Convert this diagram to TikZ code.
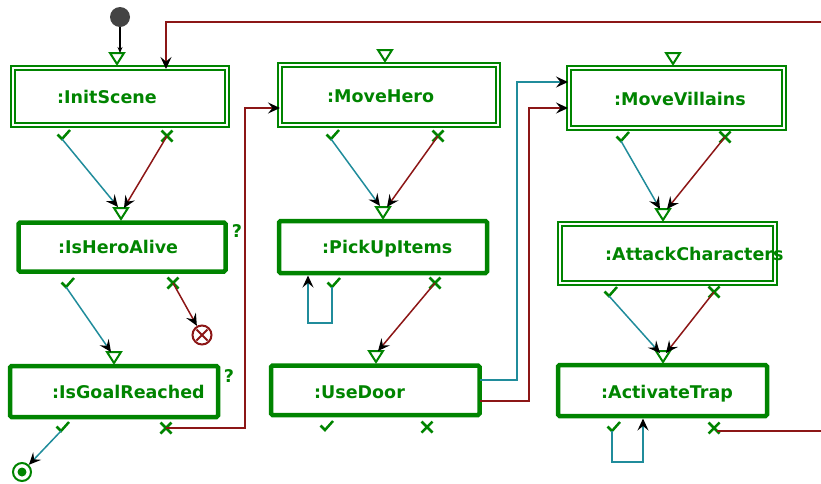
\documentclass[tikz,border=0pt]{standalone}
\usepackage{fontspec}
\setmainfont{DejaVu Sans}
\usetikzlibrary{arrows.meta}
\definecolor{actgreen}{RGB}{0,132,0}
\definecolor{okteal}{RGB}{32,140,155}
\definecolor{failred}{RGB}{140,22,22}
\definecolor{startgray}{RGB}{68,68,68}
\tikzset{
  sbox/.style={draw=actgreen,line width=4.5pt,rounded corners=1.5pt,inner sep=0pt,outer sep=0pt},
  dbox/.style={draw=actgreen,line width=2pt,double=white,double distance=2pt,inner sep=0pt,outer sep=0pt},
  lbl/.style={text=actgreen,font=\fontsize{17.5}{20}\selectfont\bfseries,anchor=base west,inner sep=0pt},
  qmark/.style={text=actgreen,font=\fontsize{17.5}{20}\selectfont\bfseries,anchor=base,inner sep=0pt},
  tip/.style={-{Stealth[length=12pt,width=11pt,inset=4.5pt,color=black]}},
  okflow/.style={draw=okteal,line width=1.5pt,tip},
  failflow/.style={draw=failred,line width=1.5pt,tip},
  okmark/.pic={\draw[actgreen,line width=2.5pt] (-4.5,-4.5)--(0,0)--(8,-9);},
  failmark/.pic={\draw[actgreen,line width=2.5pt] (-5.5,-5.5)--(5.5,5.5) (-5.5,5.5)--(5.5,-5.5);},
  entry/.pic={\draw[actgreen,line width=2pt,fill=white,line join=miter] (0,-1)--(-7,-12)--(7,-12)--cycle;}
}
\begin{document}
\begin{tikzpicture}[x=1pt,y=-1pt]
\useasboundingbox (0,0) rectangle (821,483);

% activity boxes
\node[dbox,minimum width=214pt,minimum height=57pt] (init) at (120,96.5) {};
\node[sbox,minimum width=207pt,minimum height=49pt] (alive) at (122,247) {};
\node[sbox,minimum width=208pt,minimum height=51pt] (goal) at (114,391.5) {};
\node[dbox,minimum width=218pt,minimum height=60pt] (hero) at (389,95) {};
\node[sbox,minimum width=208pt,minimum height=52pt] (pick) at (383,247) {};
\node[sbox,minimum width=208.5pt,minimum height=49.5pt] (door) at (375.25,390.25) {};
\node[dbox,minimum width=215pt,minimum height=60pt] (vill) at (676.5,98) {};
\node[dbox,minimum width=215pt,minimum height=59pt] (attack) at (667.5,253.5) {};
\node[sbox,minimum width=209pt,minimum height=51pt] (trap) at (662.5,390.5) {};

% box titles
\node[lbl] (tinit) at (57,103.5) {:InitScene};
\node[lbl] (talive) at (58,253) {:IsHeroAlive};
\node[lbl] (tgoal) at (52,398) {:IsGoalReached};
\node[lbl] (thero) at (327,102.5) {:MoveHero};
\node[lbl] (tpick) at (322,253) {:PickUpItems};
\node[lbl] (tdoor) at (314,398) {:UseDoor};
\node[lbl] (tvill) at (614,105) {:MoveVillains};
\node[lbl] (tattack) at (605,260) {:AttackCharacters};
\node[lbl] (ttrap) at (601,398) {:ActivateTrap};
\node[qmark] (qalive) at (237,237) {?};
\node[qmark] (qgoal) at (229,382) {?};

% initial, final and failure nodes
\node[circle,fill=startgray,minimum size=20pt,inner sep=0pt] (start) at (120,17) {};
\node[circle,draw=actgreen,line width=2pt,minimum size=18pt,inner sep=0pt] (finish) at (22,472) {};
\fill[actgreen] (finish.center) circle (4.5pt);
\node[circle,draw=failred,line width=2pt,minimum size=19pt,inner sep=0pt] (abort) at (202,335) {};
\draw[failred,line width=2pt] (abort.center) +(-5.5,-5.5) -- +(5.5,5.5) +(-5.5,5.5) -- +(5.5,-5.5);

% entry triangles on the boxes
\foreach \n/\x/\y in {ein/117/65, eal/121/220, ego/114/364, ehe/385/62, epi/383/219,
                      edo/376/363, evi/673/65, eat/663/221, etr/663/363} {
  \coordinate (\n) at (\x,\y);
  \pic at (\n) {entry};
}

% guard marks under the boxes
\foreach \n/\x/\y in {c1/62/139, c2/66/287, c3/61/431, c4/331/139, c5/332/287,
                      c6/325/430, c7/621/141, c8/609/296, c9/612/431} {
  \coordinate (\n) at (\x,\y);
  \pic at (\n) {okmark};
}
\foreach \n/\x/\y in {x1/167/136, x2/173/283, x3/166/428, x4/438/136, x5/435/283,
                      x6/427/427, x7/725/137, x8/714/292, x9/714/428} {
  \coordinate (\n) at (\x,\y);
  \pic at (\n) {failmark};
}

% bend points and loose ends
\coordinate (rtop) at (821,22);
\coordinate (rout) at (821,431);
\coordinate (pl) at (308,275.5);
\coordinate (tl) at (643,418.5);

% control flow (canvas yshift is upward)
\draw[line width=1.5pt,-{Stealth[length=6pt,width=5pt,inset=2pt]}] (start.south) -- ([yshift=12pt]ein -| start);

\draw[okflow] (c1) -- ([xshift=-3pt,yshift=13pt]eal);
\draw[failflow] (x1) -- ([xshift=3pt,yshift=12pt]eal);
\draw[okflow] (c2) -- ([xshift=-3pt,yshift=12pt]ego);
\draw[failflow] (x2) -- (abort);
\draw[okflow] (c3) -- (finish);
\draw[failflow] (x3) -- (245,428) -- (245,108) -- (hero.west |- 0,108);

\draw[okflow] (c4) -- ([xshift=-3pt,yshift=13pt]epi);
\draw[failflow] (x4) -- ([xshift=4pt,yshift=12pt]epi);
\draw[okflow] (c5) -- (332,323) -- (308,323) -- (pl);
\draw[failflow] (x5) -- ([xshift=2pt,yshift=12pt]edo);
\draw[okflow] (door.east |- 0,380) -- (517,380) -- (517,82) -- ([xshift=-1pt]vill.west |- 0,82);
\draw[failflow] (door.east |- 0,401) -- (529,401) -- (529,108) -- ([xshift=-1pt]vill.west |- 0,108);

\draw[okflow] (c7) -- ([xshift=-3pt,yshift=12pt]eat);
\draw[failflow] (x7) -- ([xshift=4pt,yshift=12pt]eat);
\draw[okflow] (c8) -- ([xshift=-3pt,yshift=10pt]etr);
\draw[failflow] (x8) -- ([xshift=3pt,yshift=10pt]etr);
\draw[okflow] (c9) -- (612,462) -- (643,462) -- (tl);
\draw[draw=failred,line width=1.5pt] ([xshift=3pt,yshift=-3pt]x9) -- (rout);
\draw[failflow] (rtop) -- (166,22) -- ([yshift=-1pt]init.north -| 166,0);
\end{tikzpicture}
\end{document}
